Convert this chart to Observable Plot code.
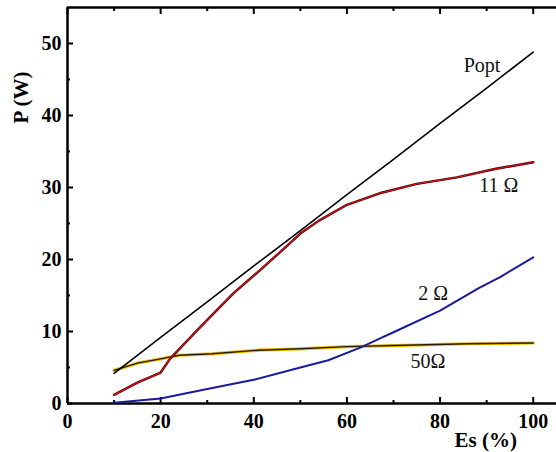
<!DOCTYPE html>
<html><head><meta charset="utf-8">
<script src="https://cdn.jsdelivr.net/npm/d3@7"></script>
<script src="https://cdn.jsdelivr.net/npm/@observablehq/plot@0.6"></script>
<style>
html,body{margin:0;padding:0;background:#fff;overflow:hidden}
#chart{width:556px;height:452px;overflow:hidden}
#chart svg{display:block}
#chart svg text{font-family:"Liberation Serif","Times New Roman",serif !important}
</style>
</head><body><div id="chart"></div>
<script>
// Popt (black)
const esPopt = [10, 20, 30, 40, 50, 60, 70, 80, 90, 100];
const pPopt  = [4.2, 9.2, 14.1, 19.1, 24.0, 29.0, 33.9, 38.9, 43.8, 48.8];
// 11 Ω (red)
const es11 = [10, 15, 20, 22, 28.5, 35.6, 41.3, 45.6, 50, 54, 60, 67, 75, 83.6, 92, 100];
const p11  = [1.2, 2.9, 4.3, 6.2, 10.6, 15.3, 18.5, 21.0, 23.6, 25.4, 27.6, 29.2, 30.5, 31.4, 32.6, 33.5];
// 2 Ω (blue)
const es2 = [10, 20, 30, 40, 50, 56, 63, 67, 70, 80, 88.5, 93, 100];
const p2  = [0.1, 0.7, 2.0, 3.3, 5.0, 6.0, 7.8, 9.0, 9.9, 12.9, 16.1, 17.6, 20.3];
// 50 Ω (orange)
const es50 = [10, 15, 20, 24, 31, 41, 50, 60, 70, 86, 100];
const p50  = [4.6, 5.6, 6.2, 6.7, 6.9, 7.4, 7.6, 7.9, 8.05, 8.3, 8.4];

const labelText = ["Popt", "11 Ω", "2 Ω", "50Ω"];
const labelEs   = [89, 92.6, 78.5, 77.4];
const labelP    = [47, 30.3, 15.3, 5.8];

const xMajor = [0, 20, 40, 60, 80, 100];
const xMinor = [10, 30, 50, 70, 90];
const yMajor = [0, 10, 20, 30, 40, 50];
const yMinor = [5, 15, 25, 35, 45];

const toRows = (xs, ys) => xs.map((x, i) => ({es: x, p: ys[i]}));
const popt = toRows(esPopt, pPopt);
const r11 = toRows(es11, p11);
const r2 = toRows(es2, p2);
const r50 = toRows(es50, p50);
const labels = labelText.map((t, i) => ({t, es: labelEs[i], p: labelP[i]}));

const font = "Liberation Serif";

const chart = Plot.plot({
  width: 556,
  height: 452,
  marginLeft: 67,
  marginRight: 0,
  marginTop: 7,
  marginBottom: 49,
  x: {domain: [0, 105]},
  y: {domain: [0, 55]},
  marks: [
    Plot.ruleY([0, 55], {stroke: "#000", strokeWidth: 2.5}),
    Plot.ruleX([0], {stroke: "#000", strokeWidth: 2.5}),
    Plot.axisX({anchor: "bottom", ticks: xMajor, tickSize: -6, tickFormat: () => "", label: null, stroke: "#000", strokeWidth: 2}),
    Plot.axisX({anchor: "bottom", ticks: xMinor, tickSize: -3, tickFormat: () => "", label: null, stroke: "#000", strokeWidth: 2}),
    Plot.axisX({anchor: "top", ticks: xMajor, tickSize: -6, tickFormat: () => "", label: null, stroke: "#000", strokeWidth: 2}),
    Plot.axisX({anchor: "top", ticks: xMinor, tickSize: -3, tickFormat: () => "", label: null, stroke: "#000", strokeWidth: 2}),
    Plot.axisY({anchor: "left", ticks: yMajor, tickSize: -6, tickFormat: () => "", label: null, stroke: "#000", strokeWidth: 2}),
    Plot.axisY({anchor: "left", ticks: yMinor, tickSize: -3, tickFormat: () => "", label: null, stroke: "#000", strokeWidth: 2}),
    Plot.axisX({anchor: "bottom", ticks: xMajor, tickSize: 0, tickPadding: 10, label: null,
      fontSize: 20, fontWeight: "bold", fontFamily: font, fill: "#000"}),
    Plot.axisY({anchor: "left", ticks: yMajor, tickSize: 0, tickPadding: 6, label: null,
      fontSize: 20, fontWeight: "bold", fontFamily: font, fill: "#000"}),
    Plot.line(r50, {x: "es", y: "p", stroke: "#efbf10", strokeWidth: 3.2}),
    Plot.line(r50, {x: "es", y: "p", stroke: "#2a1e00", strokeWidth: 1.4}),
    Plot.line(r2, {x: "es", y: "p", stroke: "#1a1a9c", strokeWidth: 2}),
    Plot.line(r11, {x: "es", y: "p", stroke: "#3a0000", strokeWidth: 2.4}),
    Plot.line(r11, {x: "es", y: "p", stroke: "#d0101a", strokeWidth: 1.3}),
    Plot.line(popt, {x: "es", y: "p", stroke: "#000", strokeWidth: 1.6}),
    Plot.text(labels, {x: "es", y: "p", text: "t", fontSize: 20, fontFamily: font, fill: "#111"}),
    Plot.text(["Es (%)"], {x: 89.8, y: -5.1, text: d => d, fontSize: 21, fontWeight: "bold", fontFamily: font, fill: "#000"}),
    Plot.text(["P (W)"], {x: -9.9, y: 42.5, text: d => d, rotate: -90, fontSize: 21, fontWeight: "bold", fontFamily: font, fill: "#000"})
  ]
});
document.getElementById("chart").appendChild(chart);
</script>
</body></html>
